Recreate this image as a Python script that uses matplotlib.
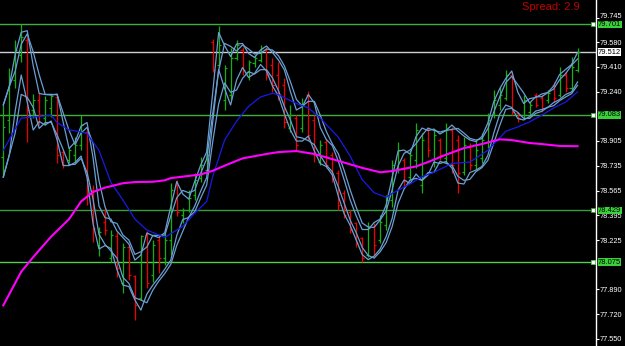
import matplotlib
matplotlib.use('Agg')
import matplotlib.pyplot as plt
import matplotlib.transforms as mtransforms
import numpy as np
import pandas as pd

plt.rcParams['font.family'] = ['Liberation Sans', 'DejaVu Sans']

# OHLC bars, oldest first
opens = [78.794, 79.047, 79.321, 79.492, 79.594, 79.116, 79.184, 79.061, 79.129, 79.205,
         78.828, 78.774, 78.808, 78.876, 78.965, 78.568, 78.192, 78.350, 78.103, 78.254,
         77.932, 78.179, 77.980, 77.830, 78.261, 77.987, 78.226, 78.103, 78.226, 78.603,
         78.397, 78.432, 78.534, 78.650, 78.705, 79.581, 79.423, 79.184, 79.218, 79.471,
         79.526, 79.376, 79.437, 79.458, 79.526, 79.423, 79.355, 79.287, 78.992, 79.061,
         78.992, 79.218, 79.047, 78.760, 78.897, 78.808, 78.685, 78.548, 78.418, 78.343,
         78.240, 78.124, 78.315, 78.226, 78.329, 78.500, 78.719, 78.774, 78.657, 78.774,
         78.603, 78.979, 78.774, 78.910, 78.787, 78.979, 78.910, 78.692, 78.863, 78.739,
         78.787, 78.897, 79.081, 79.150, 79.198, 79.355, 79.095, 79.081, 79.102, 79.218,
         79.198, 79.184, 79.287, 79.218, 79.355, 79.266, 79.389]
highs = [79.150, 79.403, 79.594, 79.701, 79.615, 79.225, 79.232, 79.211, 79.225, 79.225,
         78.842, 78.863, 78.931, 79.081, 78.979, 78.603, 78.315, 78.445, 78.295, 78.281,
         78.206, 78.192, 77.987, 78.261, 78.288, 78.226, 78.261, 78.295, 78.616, 78.637,
         78.445, 78.568, 78.685, 78.794, 78.863, 79.601, 79.690, 79.423, 79.540, 79.594,
         79.547, 79.458, 79.492, 79.560, 79.547, 79.471, 79.444, 79.334, 79.150, 79.081,
         79.198, 79.246, 79.081, 78.910, 78.917, 78.828, 78.705, 78.568, 78.432, 78.350,
         78.247, 78.350, 78.343, 78.397, 78.534, 78.774, 78.897, 78.787, 78.842, 79.027,
         78.958, 78.992, 78.979, 78.924, 79.027, 78.999, 78.945, 78.931, 78.890, 78.910,
         78.958, 79.095, 79.252, 79.273, 79.389, 79.376, 79.102, 79.218, 79.170, 79.232,
         79.218, 79.252, 79.307, 79.410, 79.376, 79.478, 79.540]
lows = [78.657, 78.958, 79.266, 79.444, 78.897, 79.061, 79.013, 79.013, 79.068, 78.753,
        78.719, 78.753, 78.760, 78.842, 78.466, 78.213, 78.117, 78.261, 78.076, 77.973,
        77.864, 77.953, 77.679, 77.816, 77.898, 77.939, 78.001, 78.055, 78.124, 78.391,
        78.343, 78.418, 78.500, 78.623, 78.685, 79.376, 79.410, 79.116, 79.184, 79.458,
        79.355, 79.321, 79.410, 79.444, 79.321, 79.239, 79.184, 78.992, 78.965, 78.842,
        78.965, 78.910, 78.760, 78.739, 78.719, 78.623, 78.432, 78.377, 78.274, 78.179,
        78.075, 78.110, 78.124, 78.206, 78.295, 78.452, 78.685, 78.589, 78.637, 78.719,
        78.548, 78.794, 78.726, 78.774, 78.753, 78.685, 78.548, 78.671, 78.705, 78.705,
        78.753, 78.856, 79.061, 79.116, 79.184, 79.081, 79.034, 79.061, 79.081, 79.136,
        79.102, 79.164, 79.170, 79.205, 79.239, 79.239, 79.376]
closes = [78.999, 79.321, 79.526, 79.615, 79.116, 79.184, 79.081, 79.184, 79.211, 78.808,
          78.739, 78.842, 78.876, 79.013, 78.637, 78.308, 78.281, 78.295, 78.261, 78.035,
          78.179, 77.987, 77.782, 78.254, 77.932, 78.192, 78.103, 78.226, 78.568, 78.418,
          78.432, 78.514, 78.637, 78.739, 78.808, 79.389, 79.560, 79.403, 79.471, 79.560,
          79.389, 79.444, 79.471, 79.540, 79.355, 79.287, 79.218, 79.034, 79.081, 78.876,
          79.150, 78.945, 78.808, 78.876, 78.739, 78.650, 78.466, 78.397, 78.295, 78.206,
          78.103, 78.308, 78.192, 78.350, 78.500, 78.739, 78.842, 78.637, 78.808, 78.979,
          78.910, 78.842, 78.945, 78.808, 78.979, 78.739, 78.685, 78.876, 78.739, 78.842,
          78.910, 79.047, 79.184, 79.218, 79.355, 79.102, 79.061, 79.184, 79.150, 79.150,
          79.129, 79.232, 79.198, 79.355, 79.266, 79.410, 79.512]

blue_idx = [0, 3, 8, 9, 11, 13, 14, 16, 18, 20, 22, 24, 27, 30, 32, 34, 35, 37, 39, 41,
            43, 45, 46, 49, 51, 53, 56, 58, 60, 62, 64, 65, 68, 70, 72, 74, 75, 78, 81, 84,
            86, 88, 90, 92, 94, 96]
blue_val = [78.84, 79.06, 79.08, 79.03, 78.98, 78.965, 78.955, 78.84, 78.62, 78.50,
            78.37, 78.295, 78.245, 78.32, 78.41, 78.49, 78.66, 78.91, 79.04, 79.14,
            79.205, 79.23, 79.22, 79.16, 79.13, 79.06, 78.93, 78.80, 78.64, 78.55,
            78.52, 78.545, 78.61, 78.66, 78.69, 78.73, 78.75, 78.76, 78.84, 78.97,
            79.00, 79.035, 79.08, 79.13, 79.17, 79.24]
magenta_idx = [0, 3, 5, 8, 11, 13, 15, 17, 20, 22, 25, 27, 28, 33, 35, 37, 40, 44, 46, 49,
               52, 55, 60, 63, 65, 69, 71, 74, 77, 80, 83, 85, 88, 90, 93, 96]
magenta_val = [77.78, 78.01, 78.11, 78.25, 78.37, 78.49, 78.555, 78.585, 78.615, 78.623,
               78.625, 78.635, 78.65, 78.675, 78.70, 78.735, 78.785, 78.815, 78.828, 78.835,
               78.815, 78.78, 78.72, 78.69, 78.698, 78.73, 78.76, 78.81, 78.855, 78.883,
               78.915, 78.91, 78.89, 78.883, 78.87, 78.868]

levels = [79.701, 79.083, 78.429, 78.075]
level_colors = ['#3fae3f', '#3fae3f', '#3a9c3a', '#55cc55']
spread = 2.9
# price scale; 79.075 and 78.055 sit under the level boxes in the original and are not drawn
yticks = [79.745, 79.580, 79.410, 79.240, 78.905, 78.735, 78.565, 78.395,
          78.225, 77.890, 77.720, 77.550]

idx = np.arange(len(closes))
o = np.array(opens); h = np.array(highs); l = np.array(lows); c = np.array(closes)
up = c >= o
bar_cols = np.where(up, '#12b012', '#f00000')

fig = plt.figure(figsize=(6.25, 3.46), dpi=100, facecolor='black')
ax = fig.add_axes([0, 0, 595.5/625, 1])
ax.set_facecolor('black')

# support / resistance levels and bid line
for lv, col in zip(levels, level_colors):
    ax.axhline(lv, color=col, lw=1.0, zorder=1)
ax.axhline(c[-1], color='#d0d0d0', lw=1.0, zorder=1)

# bars
ax.vlines(idx, l, h, colors=bar_cols, lw=0.9, zorder=2)
ax.hlines(o, idx - 0.35, idx, colors=bar_cols, lw=0.9, zorder=2)
ax.hlines(c, idx, idx + 0.35, colors=bar_cols, lw=0.9, zorder=2)

# fast envelopes of highs and lows
hs = pd.Series(h); ls = pd.Series(l)
for s in (hs.rolling(2, min_periods=1).mean(), hs.rolling(3, min_periods=1).mean(),
          ls.rolling(2, min_periods=1).mean(), ls.rolling(3, min_periods=1).mean()):
    ax.plot(idx, s, color='#6a9fd2', lw=0.9, zorder=3)

ax.plot(blue_idx, blue_val, color='#1a1ae6', lw=0.9, zorder=4)
ax.plot(magenta_idx, magenta_val, color='#ff00ff', lw=1.5, zorder=4)

ax.set_xlim(-0.55, 99.0)
ax.set_ylim(77.502, 79.868)

for sp in ['left', 'top', 'bottom']:
    ax.spines[sp].set_visible(False)
ax.spines['right'].set_color('white')
ax.spines['right'].set_linewidth(1.0)
ax.set_xticks([])
ax.yaxis.tick_right()
ax.set_yticks(yticks)
ax.set_yticklabels(['%.3f' % v for v in yticks])
ax.tick_params(axis='y', colors='white', labelsize=5.3, length=2.2, width=0.8, pad=1.0)

# top label sits a touch higher, clear of the 79.701 box
top_lab = ax.get_yticklabels()[0]
top_lab.set_transform(top_lab.get_transform() +
                      mtransforms.ScaledTranslation(0, 1.8/72, fig.dpi_scale_trans))

trans = mtransforms.blended_transform_factory(ax.transAxes, ax.transData)
for lv, col in zip(levels, level_colors):
    ax.plot([0.995], [lv], 's', ms=2.6, mfc='white', mec=col, mew=0.6,
            transform=trans, zorder=6, clip_on=False)
    ax.text(1.004, lv, '%.3f' % lv, transform=trans, fontsize=5.4, color='black',
            ha='left', va='center', clip_on=False, zorder=10,
            bbox=dict(boxstyle='square,pad=0.05', fc='#3ad03a', ec='none'))
ax.text(1.004, c[-1], '%.3f' % c[-1], transform=trans, fontsize=5.4, color='black',
        ha='left', va='center', clip_on=False, zorder=10,
        bbox=dict(boxstyle='square,pad=0.05', fc='white', ec='none'))

fig.text(580/625, 1 - 2.5/346, 'Spread: %.1f' % spread, ha='right', va='top',
         color='#c00000', fontsize=8)

fig.savefig('out.png', dpi=100, facecolor='black')
